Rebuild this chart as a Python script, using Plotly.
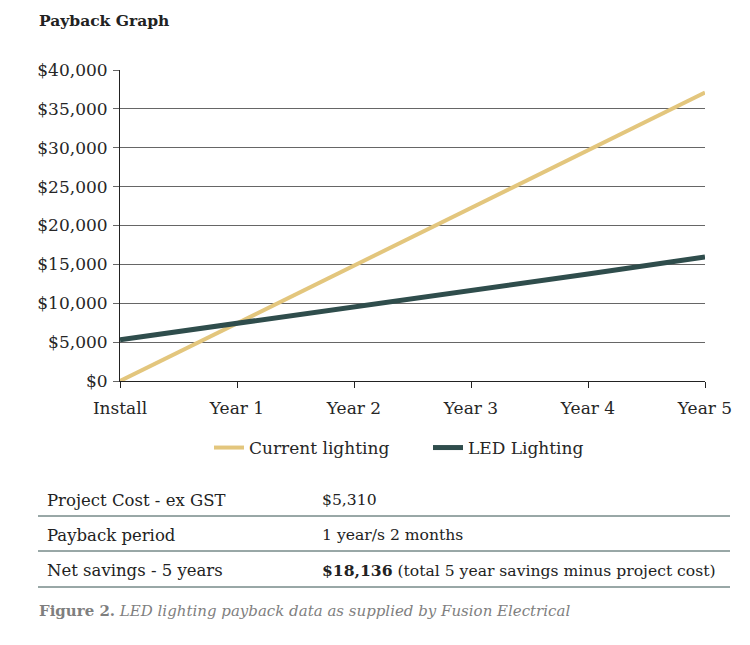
import plotly.graph_objects as go

# ---- data ----
categories = ["Install", "Year 1", "Year 2", "Year 3", "Year 4", "Year 5"]
current_lighting = [0, 7400, 14850, 22250, 29700, 37100]
led_lighting = [5310, 7380, 9550, 11650, 13750, 15950]
y_tick_values = [0, 5000, 10000, 15000, 20000, 25000, 30000, 35000, 40000]
y_tick_labels = ["$0", "$5,000", "$10,000", "$15,000", "$20,000", "$25,000",
                 "$30,000", "$35,000", "$40,000"]
table_labels = ["Project Cost - ex GST", "Payback period", "Net savings - 5 years"]
table_values = ["$5,310", "1 year/s 2 months",
                "<b>$18,136</b> (total 5 year savings minus project cost)"]
title_text = "<b>Payback Graph</b>"
caption_text = "<b>Figure 2.</b> <i>LED lighting payback data as supplied by Fusion Electrical</i>"

# ---- geometry helpers (reference pixel -> paper); page body has an 8px offset ----
W, H = 750, 645
OFF = 8
L, R, T, B = 120, 705, 70, 381


def px(x):
    return (x - L) / (R - L)


def py(y):
    return (B - y) / (B - T)


FONT = "DejaVu Serif"
TXT = "#262626"

fig = go.Figure()
fig.add_trace(go.Scatter(x=categories, y=current_lighting, mode="lines",
                         name="Current lighting",
                         line=dict(color="#E3C67D", width=4)))
fig.add_trace(go.Scatter(x=categories, y=led_lighting, mode="lines",
                         name="LED Lighting",
                         line=dict(color="#2F4D4C", width=5)))

annotations = [
    dict(text=title_text, x=px(37), y=py(20), xref="paper", yref="paper",
         xanchor="left", yanchor="middle", showarrow=False,
         font=dict(family=FONT, size=15.5, color="#222")),
]
shapes = []
row_y = [500, 535, 570]
line_y = [516, 551, 587]
for lab, val, ry, ly in zip(table_labels, table_values, row_y, line_y):
    annotations.append(dict(text=lab, x=px(45), y=py(ry), xref="paper", yref="paper",
                            xanchor="left", yanchor="middle", showarrow=False,
                            font=dict(family=FONT, size=16.5, color="#222")))
    annotations.append(dict(text=val, x=px(320), y=py(ry), xref="paper", yref="paper",
                            xanchor="left", yanchor="middle", showarrow=False,
                            font=dict(family=FONT, size=15.6, color="#222")))
    shapes.append(dict(type="line", xref="paper", yref="paper",
                       x0=px(38), x1=px(730), y0=py(ly), y1=py(ly),
                       line=dict(color="#33504f", width=1)))
annotations.append(dict(text=caption_text, x=px(37), y=py(611), xref="paper", yref="paper",
                        xanchor="left", yanchor="middle", showarrow=False,
                        font=dict(family=FONT, size=15, color="#7f7f7f")))

fig.update_layout(
    width=W, height=H,
    margin=dict(l=L - OFF, r=W - R + OFF, t=T - OFF, b=H - B + OFF, pad=0),
    paper_bgcolor="white", plot_bgcolor="white",
    font=dict(family=FONT, size=17, color=TXT),
    showlegend=True,
    legend=dict(orientation="h", x=px(428), xanchor="center", y=py(448),
                yanchor="middle", font=dict(family=FONT, size=17, color=TXT),
                entrywidth=174, entrywidthmode="pixels",
                bgcolor="rgba(0,0,0,0)"),
    annotations=annotations,
    shapes=shapes,
)
fig.update_xaxes(type="category", range=[0, 5], showgrid=False, zeroline=False,
                 showline=True, linecolor="#222", linewidth=1,
                 ticks="outside", ticklen=6, tickcolor="#222", tickwidth=1,
                 ticklabelstandoff=6,
                 tickfont=dict(family=FONT, size=17, color=TXT), fixedrange=True)
fig.update_yaxes(range=[0, 40000], tickvals=y_tick_values, ticktext=y_tick_labels,
                 showgrid=True, gridcolor="#666666", gridwidth=1, zeroline=False,
                 showline=True, linecolor="#222", linewidth=1,
                 ticks="outside", ticklen=6, tickcolor="#666666", tickwidth=1,
                 ticklabelstandoff=2,
                 tickfont=dict(family=FONT, size=17, color=TXT), fixedrange=True)

fig.write_html("out.html")
